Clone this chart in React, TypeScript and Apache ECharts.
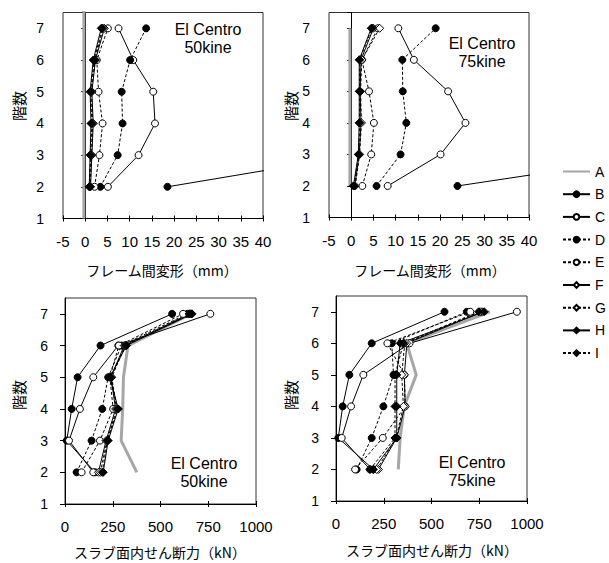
import React, { useEffect, useRef } from 'react';
import * as echarts from 'echarts';

// ---- data ----
const seriesNames = ['A', 'B', 'C', 'D', 'E', 'F', 'G', 'H', 'I'];
const floors = [2, 3, 4, 5, 6, 7];
const floorsAFull = [1, 2, 3, 4, 5, 6, 7, 8];
const floorTicks = [1, 2, 3, 4, 5, 6, 7];
const floorMax = 7.5;
const deformTicks = [-5, 0, 5, 10, 15, 20, 25, 30, 35, 40];
const shearTicks = [0, 250, 500, 750, 1000];

// Top-left: El Centro 50kine, inter-story deformation (mm)
const tlA = [-0.3, -0.3, -0.3, -0.3, -0.3, -0.3, -0.3, -0.3];
const tlB = [18.5, 61, 70, 75, 70, 65];
const tlC = [5.1, 12.0, 15.7, 15.3, 10.8, 7.5];
const tlD = [3.4, 7.3, 8.4, 8.2, 10.1, 13.7];
const tlE = [2.1, 3.2, 3.9, 3.0, 2.6, 5.1];
const tlF = [1.2, 1.5, 1.8, 1.5, 2.3, 4.3];
const tlG = [1.1, 1.4, 1.7, 1.4, 2.2, 4.0];
const tlH = [0.9, 1.1, 1.3, 1.1, 1.8, 3.6];
const tlI = [1.0, 1.2, 1.5, 1.2, 2.0, 3.8];

// Top-right: El Centro 75kine, inter-story deformation (mm)
const trA = [-0.3, -0.3, -0.3, -0.3, -0.3, -0.3];
const trB = [23.9, 71, 80, 85, 80, 75];
const trC = [8.2, 20.1, 25.7, 21.8, 14.1, 10.6];
const trD = [5.7, 11.1, 12.4, 11.6, 11.5, 19.0];
const trE = [2.5, 4.5, 5.1, 4.0, 2.4, 6.0];
const trF = [0.8, 1.8, 2.2, 2.0, 2.2, 5.0];
const trG = [0.9, 1.9, 2.3, 2.1, 2.4, 6.4];
const trH = [0.5, 1.6, 1.8, 1.8, 1.8, 4.5];
const trI = [0.6, 1.7, 1.9, 1.9, 1.9, 4.7];

// Bottom-left: El Centro 50kine, slab in-plane shear (kN)
const blA = [376, 294, 302, 306, 330, 660];
const blB = [157, 9, 35, 66, 186, 561];
const blC = [148, 21, 78, 148, 279, 761];
const blD = [61, 139, 195, 226, 296, 641];
const blE = [87, 183, 252, 235, 282, 618];
const blF = [175, 215, 265, 240, 310, 655];
const blG = [185, 220, 270, 245, 315, 660];
const blH = [200, 226, 279, 235, 322, 665];
const blI = [195, 222, 275, 240, 318, 650];

// Bottom-right: El Centro 75kine, slab in-plane shear (kN)
const brA = [326, 336, 357, 420, 370, 806];
const brB = [196, 12, 35, 70, 187, 568];
const brC = [178, 30, 79, 143, 385, 947];
const brD = [108, 187, 248, 301, 292, 685];
const brE = [100, 245, 362, 358, 269, 703];
const brF = [222, 318, 362, 358, 371, 764];
const brG = [213, 315, 353, 344, 360, 755];
const brH = [196, 318, 318, 318, 336, 776];
const brI = [178, 309, 309, 309, 353, 747];

const xTitleDeform = 'フレーム間変形（mm）';
const xTitleShear = 'スラブ面内せん断力（kN）';
const yTitle = '階数';
const caption50 = 'El Centro\n50kine';
const caption75 = 'El Centro\n75kine';

// ---- styles ----
const FONT = "'Liberation Sans', Arial, 'Noto Sans CJK JP', sans-serif";
const JFONT = "'Noto Sans CJK JP', 'Liberation Sans', sans-serif";

type St = { symbol: string; fill: string; dashed: boolean };
const markStyles: Record<string, St> = {
  B: { symbol: 'circle', fill: '#000', dashed: false },
  C: { symbol: 'circle', fill: '#fff', dashed: false },
  D: { symbol: 'circle', fill: '#000', dashed: true },
  E: { symbol: 'circle', fill: '#fff', dashed: true },
  F: { symbol: 'diamond', fill: '#fff', dashed: false },
  G: { symbol: 'diamond', fill: '#fff', dashed: true },
  H: { symbol: 'diamond', fill: '#000', dashed: false },
  I: { symbol: 'diamond', fill: '#000', dashed: true },
};

function makeSeries(name: string, xs: number[], ys: number[], xIdx: number, yIdx: number) {
  const data = xs.map((v, i) => [v, ys[i]]);
  if (name === 'A') {
    return {
      name, type: 'line', xAxisIndex: xIdx, yAxisIndex: yIdx, data,
      symbol: 'none', clip: true,
      lineStyle: { color: '#a6a6a6', width: 3 },
      itemStyle: { color: '#a6a6a6' },
      z: 2,
    };
  }
  const s = markStyles[name];
  return {
    name, type: 'line', xAxisIndex: xIdx, yAxisIndex: yIdx, data,
    symbol: s.symbol,
    symbolSize: s.symbol === 'diamond' ? 8 : 7,
    clip: true,
    lineStyle: { color: '#000', width: 1, type: s.dashed ? [3, 2] : 'solid' },
    itemStyle: { color: s.fill, borderColor: '#000', borderWidth: 1 },
    z: 3,
  };
}

const panels = [
  { xIdx: 0, yIdx: 0, aFloors: floorsAFull, d: { A: tlA, B: tlB, C: tlC, D: tlD, E: tlE, F: tlF, G: tlG, H: tlH, I: tlI } as Record<string, number[]> },
  { xIdx: 1, yIdx: 2, aFloors: floors, d: { A: trA, B: trB, C: trC, D: trD, E: trE, F: trF, G: trG, H: trH, I: trI } as Record<string, number[]> },
  { xIdx: 2, yIdx: 4, aFloors: floors, d: { A: blA, B: blB, C: blC, D: blD, E: blE, F: blF, G: blG, H: blH, I: blI } as Record<string, number[]> },
  { xIdx: 3, yIdx: 5, aFloors: floors, d: { A: brA, B: brB, C: brC, D: brD, E: brE, F: brF, G: brG, H: brH, I: brI } as Record<string, number[]> },
];

const grids = [
  { left: 63, top: 12.5, width: 200, height: 206 },
  { left: 329, top: 12.5, width: 200, height: 205 },
  { left: 65, top: 298, width: 191, height: 206 },
  { left: 336, top: 296, width: 191, height: 205 },
];

const plainFmt = (v: number) => String(v);

function xAxisMain(gridIndex: number, ticks: number[]) {
  return {
    type: 'value', gridIndex, position: 'bottom',
    min: ticks[0], max: ticks[ticks.length - 1], interval: ticks[1] - ticks[0],
    axisLine: { show: true, onZero: false, lineStyle: { color: '#000', width: 1 } },
    axisTick: { show: true, inside: false, length: 3, lineStyle: { color: '#000' } },
    axisLabel: { show: true, margin: 15, fontSize: 15, color: '#000', fontFamily: FONT, formatter: plainFmt },
    splitLine: { show: false },
  };
}
function xAxisHelper(gridIndex: number, ticks: number[]) {
  return {
    type: 'value', gridIndex, position: 'bottom',
    min: ticks[0], max: ticks[ticks.length - 1], interval: ticks[1] - ticks[0],
    axisLine: { show: false, onZero: false },
    axisTick: { show: true, inside: true, length: 3, lineStyle: { color: '#000' } },
    axisLabel: { show: false },
    splitLine: { show: false },
  };
}
const yBase = {
  type: 'value',
  min: floorTicks[0], max: floorMax, interval: floorTicks[1] - floorTicks[0],
  splitLine: { show: false },
};

function buildOption() {
  const series: any[] = [];
  panels.forEach((p) => {
    seriesNames.forEach((n) => {
      const ys = n === 'A' ? p.aFloors : floors;
      series.push(makeSeries(n, p.d[n], ys, p.xIdx, p.yIdx));
    });
  });

  const labelFmt = (v: number) => (Number.isInteger(v) ? String(v) : '');

  const yAxis = [
    { ...yBase, gridIndex: 0, position: 'left', axisLine: { show: false, onZero: false }, axisTick: { show: false },
      axisLabel: { margin: 19, fontSize: 14, color: '#000', fontFamily: FONT, formatter: labelFmt, showMaxLabel: false } },
    { ...yBase, gridIndex: 0, position: 'left', axisLine: { show: true, onZero: true, lineStyle: { color: '#000' } },
      axisTick: { show: true, length: 4, lineStyle: { color: '#000' } }, axisLabel: { show: false } },
    { ...yBase, gridIndex: 1, position: 'left', axisLine: { show: false, onZero: false }, axisTick: { show: false },
      axisLabel: { margin: 19, fontSize: 14, color: '#000', fontFamily: FONT, formatter: labelFmt, showMaxLabel: false } },
    { ...yBase, gridIndex: 1, position: 'left', axisLine: { show: true, onZero: true, lineStyle: { color: '#000' } },
      axisTick: { show: true, length: 4, lineStyle: { color: '#000' } }, axisLabel: { show: false } },
    { ...yBase, gridIndex: 2, position: 'left', axisLine: { show: true, onZero: false, lineStyle: { color: '#000' } },
      axisTick: { show: true, length: 5, lineStyle: { color: '#000' } },
      axisLabel: { margin: 17, fontSize: 14, color: '#000', fontFamily: FONT, formatter: labelFmt, showMaxLabel: false } },
    { ...yBase, gridIndex: 3, position: 'left', axisLine: { show: true, onZero: false, lineStyle: { color: '#000' } },
      axisTick: { show: true, length: 5, lineStyle: { color: '#000' } },
      axisLabel: { margin: 17, fontSize: 14, color: '#000', fontFamily: FONT, formatter: labelFmt, showMaxLabel: false } },
  ];

  const xAxis = [
    xAxisMain(0, deformTicks), xAxisMain(1, deformTicks), xAxisMain(2, shearTicks), xAxisMain(3, shearTicks),
    xAxisHelper(0, deformTicks), xAxisHelper(1, deformTicks), xAxisHelper(2, shearTicks), xAxisHelper(3, shearTicks),
  ];

  const txt = (text: string, x: number, y: number, size: number, family: string, rotation = 0, lineHeight?: number) => ({
    type: 'text', x, y, rotation, silent: true, z: 10,
    style: {
      text, fill: '#000', fontSize: size, fontFamily: family,
      align: 'center', verticalAlign: 'middle', textAlign: 'center', textVerticalAlign: 'middle',
      lineHeight: lineHeight || size,
    },
  });

  const graphic = [
    txt(caption50, 208, 38, 16, FONT, 0, 18),
    txt(caption75, 482, 52.5, 16, FONT, 0, 18),
    txt(caption50, 204, 472, 16, FONT, 0, 18),
    txt(caption75, 472, 471, 16, FONT, 0, 18),
    txt(xTitleDeform, 162, 270, 14, JFONT),
    txt(xTitleDeform, 430, 270, 14, JFONT),
    txt(xTitleShear, 160, 552, 14, JFONT),
    txt(xTitleShear, 432, 550, 14, JFONT),
    txt(yTitle, 18, 106, 15, JFONT, Math.PI / 2),
    txt(yTitle, 290, 106, 15, JFONT, Math.PI / 2),
    txt(yTitle, 18, 395, 15, JFONT, Math.PI / 2),
    txt(yTitle, 290, 395, 15, JFONT, Math.PI / 2),
  ];

  const legendData = seriesNames.map((n) => (n === 'A' ? { name: n, itemStyle: { opacity: 0 } } : { name: n }));

  return {
    animation: false,
    backgroundColor: '#fff',
    grid: grids.map((g) => ({ ...g, show: true, borderColor: '#333', borderWidth: 1, backgroundColor: 'transparent' })),
    xAxis,
    yAxis,
    legend: {
      data: legendData,
      orient: 'vertical',
      left: 562,
      top: 164.5,
      padding: 0,
      itemWidth: 27,
      itemHeight: 7,
      itemGap: 8.7,
      textStyle: { fontSize: 14, color: '#000', fontFamily: FONT, lineHeight: 14, padding: 0 },
      selectedMode: false,
    },
    graphic,
    series,
  };
}

export default function App() {
  const ref = useRef<HTMLDivElement>(null);
  useEffect(() => {
    document.body.style.margin = '0';
    const chart = echarts.init(ref.current!, undefined, { renderer: 'svg' });
    chart.setOption(buildOption() as any);
    return () => chart.dispose();
  }, []);
  return <div ref={ref} style={{ width: 609, height: 563 }} />;
}
